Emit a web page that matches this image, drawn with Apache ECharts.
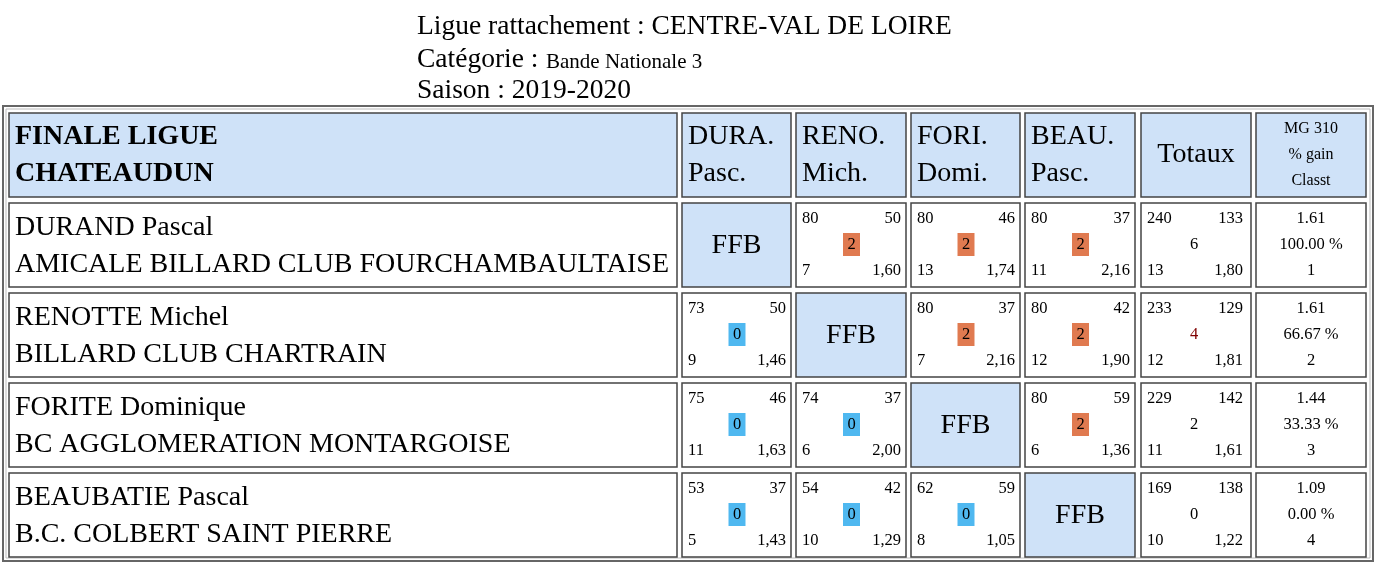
<!DOCTYPE html>
<html><head><meta charset="utf-8">
<script src="https://cdn.jsdelivr.net/npm/echarts@6/dist/echarts.min.js"></script>
<style>html,body{margin:0;padding:0;background:#fff}#c{width:1377px;height:565px}</style>
</head><body><div id="c"></div>
<script>
const titleLines = [["Ligue rattachement : CENTRE-VAL DE LOIRE",""],["Catégorie : ","Bande Nationale 3"],["Saison : 2019-2020",""]];
const headerName = ["FINALE LIGUE","CHATEAUDUN"];
const headers = [["DURA.","Pasc."],["RENO.","Mich."],["FORI.","Domi."],["BEAU.","Pasc."]];
const players = ["DURAND Pascal","RENOTTE Michel","FORITE Dominique","BEAUBATIE Pascal"];
const clubs = ["AMICALE BILLARD CLUB FOURCHAMBAULTAISE","BILLARD CLUB CHARTRAIN","BC AGGLOMERATION MONTARGOISE","B.C. COLBERT SAINT PIERRE"];
// [points, reprises, match points, best series, average]
const matches = [
 [null,[80,50,2,7,"1,60"],[80,46,2,13,"1,74"],[80,37,2,11,"2,16"]],
 [[73,50,0,9,"1,46"],null,[80,37,2,7,"2,16"],[80,42,2,12,"1,90"]],
 [[75,46,0,11,"1,63"],[74,37,0,6,"2,00"],null,[80,59,2,6,"1,36"]],
 [[53,37,0,5,"1,43"],[54,42,0,10,"1,29"],[62,59,0,8,"1,05"],null]
];
const totals = [[240,133,6,13,"1,80"],[233,129,4,12,"1,81"],[229,142,2,11,"1,61"],[169,138,0,10,"1,22"]];
const mg = [["1.61","100.00 %","1"],["1.61","66.67 %","2"],["1.44","33.33 %","3"],["1.09","0.00 %","4"]];

const F = "'Liberation Serif', 'DejaVu Serif', serif";
const colX = [9,682,796,911,1025,1141,1256], colW = [668,109,110,109,110,110,110];
const rowY = [113,203,293,383,473], rowH = [84,84,84,84,84];
const blue = "#cfe2f8";
const BIG = 28, SM = 16.5;
const els = [];
function txt(x,y,s,size,opt){ els.push({type:'text',x:x,y:y,style:{text:String(s),font:(opt&&opt.bold?'bold ':'')+size+'px '+F,fill:(opt&&opt.fill)||'#000',textAlign:(opt&&opt.align)||'left',textVerticalAlign:'middle'}}); }
function cell(c,r,fill){ els.push({type:'rect',shape:{x:colX[c],y:rowY[r],width:colW[c],height:rowH[r]},style:{fill:fill,stroke:'#444',lineWidth:1.5}}); }
let ty=[27,60,91];
titleLines.forEach((l,i)=>{ txt(417,ty[i],l[0],27.5); if(l[1]){ txt(546,ty[i]+2,l[1],21);} });
els.push({type:'rect',shape:{x:3,y:106,width:1370,height:455},style:{fill:'none',stroke:'#666',lineWidth:2}});
els.push({type:'rect',shape:{x:6,y:109,width:1364,height:449},style:{fill:'none',stroke:'#bbb',lineWidth:1}});
for(let c=0;c<7;c++) cell(c,0,blue);
txt(15,137,headerName[0],BIG,{bold:true}); txt(15,174,headerName[1],BIG,{bold:true});
headers.forEach((h,i)=>{ txt(colX[i+1]+6,137,h[0],BIG); txt(colX[i+1]+6,174,h[1],BIG);});
txt(colX[5]+colW[5]/2,155,"Totaux",BIG,{align:'center'});
["MG 310","% gain","Classt"].forEach((s,k)=>txt(colX[6]+colW[6]/2,129+k*26,s,16,{align:'center'}));
for(let r=0;r<4;r++){
  const y0=rowY[r+1];
  for(let c=0;c<7;c++) cell(c,r+1,(c===r+1)?blue:'#fff');
  txt(15,y0+25,players[r],BIG); txt(15,y0+62,clubs[r],BIG);
  for(let j=0;j<4;j++){
    const x0=colX[j+1], w=colW[j+1];
    const m=matches[r][j];
    if(!m){ txt(x0+w/2,y0+43,"FFB",BIG,{align:'center'}); continue; }
    txt(x0+6,y0+16,m[0],SM); txt(x0+w-5,y0+16,m[1],SM,{align:'right'});
    els.push({type:'rect',shape:{x:x0+w/2-8,y:y0+30,width:17,height:23},style:{fill:m[2]>0?'#e07a50':'#4fb8f0'}});
    txt(x0+w/2+0.5,y0+42,m[2],SM,{align:'center'});
    txt(x0+6,y0+68,m[3],SM); txt(x0+w-5,y0+68,m[4],SM,{align:'right'});
  }
  const t=totals[r], x5=colX[5], w5=colW[5];
  txt(x5+6,y0+16,t[0],SM); txt(x5+w5-8,y0+16,t[1],SM,{align:'right'});
  txt(x5+w5/2-2,y0+42,t[2],SM,{align:'center',fill:r===1?'#800000':'#000'});
  txt(x5+6,y0+68,t[3],SM); txt(x5+w5-8,y0+68,t[4],SM,{align:'right'});
  mg[r].forEach((s,k)=>txt(colX[6]+colW[6]/2,y0+16+k*26,s,SM,{align:'center'}));
}
const ch=echarts.init(document.getElementById('c'),null,{renderer:'canvas'});
ch.setOption({animation:false,graphic:{elements:els}});
</script></body></html>
